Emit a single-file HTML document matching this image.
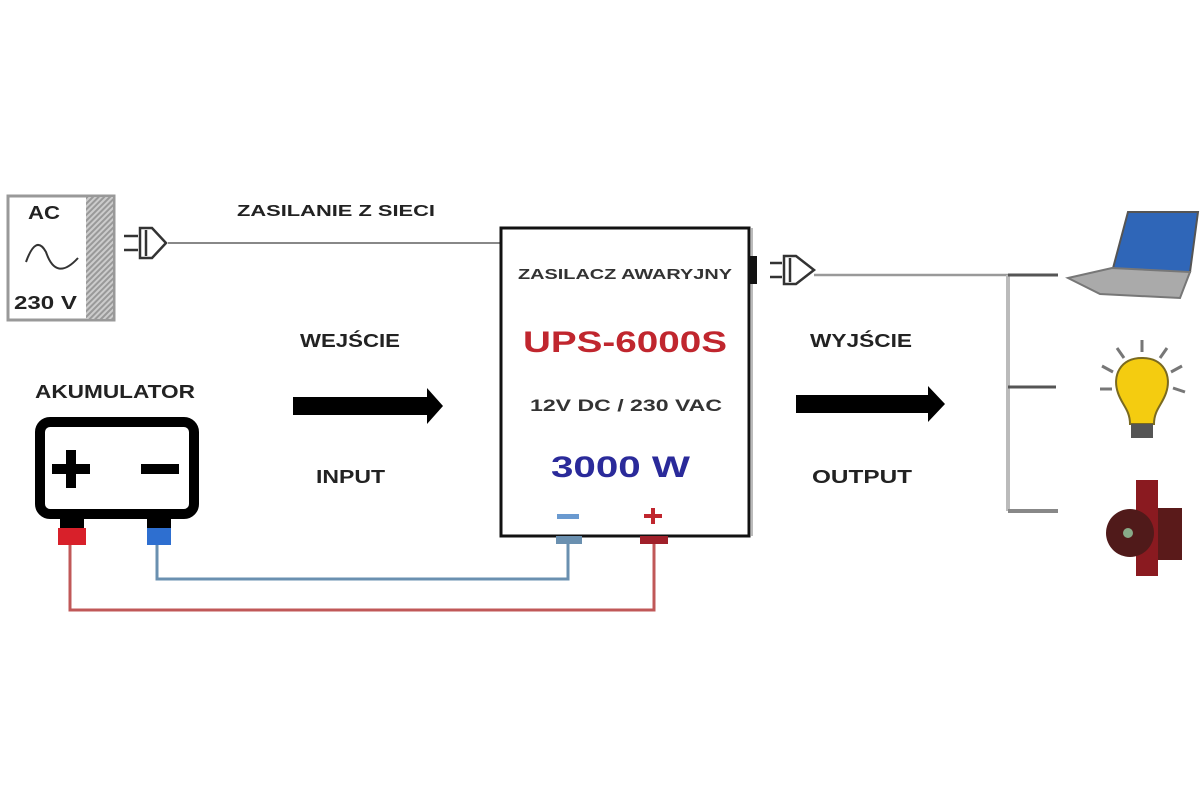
<!DOCTYPE html>
<html><head><meta charset="utf-8"><style>
html,body{margin:0;padding:0;background:#fff;}
svg{display:block;font-family:"Liberation Sans",Arial,sans-serif;font-weight:bold;}
</style></head><body>
<svg width="1200" height="800" viewBox="0 0 1200 800" xmlns="http://www.w3.org/2000/svg">
<defs>
<pattern id="h" width="4" height="4" patternUnits="userSpaceOnUse" patternTransform="rotate(45)">
<rect width="4" height="4" fill="#ccc"/><rect width="2" height="4" fill="#999"/></pattern>
</defs>
<!-- AC source -->
<rect x="8" y="196" width="106" height="124" fill="#fff" stroke="#999" stroke-width="3"/>
<rect x="86" y="197" width="27" height="122" fill="url(#h)"/>
<text x="28" y="219" font-size="18" textLength="32" lengthAdjust="spacingAndGlyphs" fill="#222">AC</text>
<path d="M26 262 Q36 234 46 252 Q56 282 78 258" fill="none" stroke="#333" stroke-width="2"/>
<text x="14" y="309" font-size="18" textLength="63" lengthAdjust="spacingAndGlyphs" fill="#222">230 V</text>
<!-- input plug -->
<g stroke="#333" stroke-width="2.5" fill="#fff">
<line x1="124" y1="236" x2="138" y2="236"/><line x1="124" y1="250" x2="138" y2="250"/>
<path d="M140 228 L152 228 L166 243 L152 258 L140 258 Z"/>
<line x1="146" y1="230" x2="146" y2="256"/>
</g>
<line x1="168" y1="243" x2="501" y2="243" stroke="#888" stroke-width="2"/>
<text x="237" y="216" font-size="16" textLength="198" lengthAdjust="spacingAndGlyphs" fill="#222">ZASILANIE Z SIECI</text>
<!-- UPS box -->
<rect x="501" y="228" width="248" height="308" fill="#fff" stroke="#111" stroke-width="3"/>
<line x1="752" y1="228" x2="752" y2="536" stroke="#bbb" stroke-width="2"/>
<text x="518" y="279" font-size="15" textLength="214" lengthAdjust="spacingAndGlyphs" fill="#333">ZASILACZ AWARYJNY</text>
<text x="523" y="352" font-size="30" textLength="204" lengthAdjust="spacingAndGlyphs" fill="#c0262e">UPS-6000S</text>
<text x="530" y="411" font-size="17" textLength="192" lengthAdjust="spacingAndGlyphs" fill="#333">12V DC  /  230 VAC</text>
<text x="551" y="477" font-size="30" textLength="139" lengthAdjust="spacingAndGlyphs" fill="#2a2a9a">3000 W</text>
<rect x="557" y="514" width="22" height="5" fill="#6a9ad0"/>
<rect x="644" y="514" width="18" height="4" fill="#c0262e"/><rect x="651" y="508" width="4" height="16" fill="#c0262e"/>
<rect x="556" y="536" width="26" height="8" fill="#6a90b0"/>
<rect x="640" y="536" width="28" height="8" fill="#a0202a"/>
<!-- wires -->
<polyline points="568,544 568,579 157,579 157,545" fill="none" stroke="#6a90b0" stroke-width="3"/>
<polyline points="654,544 654,610 70,610 70,545" fill="none" stroke="#c05858" stroke-width="3"/>
<!-- output plug -->
<rect x="749" y="256" width="8" height="28" fill="#111"/>
<g stroke="#333" stroke-width="2.5" fill="#fff">
<line x1="770" y1="263" x2="782" y2="263"/><line x1="770" y1="277" x2="782" y2="277"/>
<path d="M784 256 L796 256 L814 270 L796 284 L784 284 Z"/>
<line x1="790" y1="258" x2="790" y2="282"/>
</g>
<line x1="814" y1="275" x2="1058" y2="275" stroke="#999" stroke-width="2.5"/>
<line x1="1008" y1="275" x2="1008" y2="511" stroke="#bbb" stroke-width="4"/>
<line x1="1008" y1="275" x2="1058" y2="275" stroke="#555" stroke-width="3"/>
<line x1="1008" y1="387" x2="1056" y2="387" stroke="#555" stroke-width="3"/>
<line x1="1008" y1="511" x2="1058" y2="511" stroke="#888" stroke-width="4"/>
<!-- labels / arrows -->
<text x="300" y="347" font-size="18" textLength="100" lengthAdjust="spacingAndGlyphs" fill="#222">WEJŚCIE</text>
<text x="316" y="483" font-size="18" textLength="69" lengthAdjust="spacingAndGlyphs" fill="#222">INPUT</text>
<path d="M293 397 L427 397 L427 388 L443 406 L427 424 L427 415 L293 415 Z" fill="#000"/>
<text x="810" y="347" font-size="18" textLength="102" lengthAdjust="spacingAndGlyphs" fill="#222">WYJŚCIE</text>
<text x="812" y="483" font-size="18" textLength="100" lengthAdjust="spacingAndGlyphs" fill="#222">OUTPUT</text>
<path d="M796 395 L928 395 L928 386 L945 404 L928 422 L928 413 L796 413 Z" fill="#000"/>
<!-- battery -->
<text x="35" y="398" font-size="18" textLength="160" lengthAdjust="spacingAndGlyphs" fill="#222">AKUMULATOR</text>
<rect x="40" y="422" width="154" height="92" rx="10" fill="#fff" stroke="#000" stroke-width="10"/>
<rect x="52" y="464" width="38" height="10" fill="#000"/><rect x="66" y="450" width="10" height="38" fill="#000"/>
<rect x="141" y="464" width="38" height="10" fill="#000"/>
<rect x="60" y="518" width="24" height="10" fill="#000"/><rect x="58" y="528" width="28" height="17" fill="#d8202a"/>
<rect x="147" y="518" width="24" height="10" fill="#000"/><rect x="147" y="528" width="24" height="17" fill="#2e6fd0"/>
<!-- laptop -->
<path d="M1128 212 L1198 212 L1190 272 L1112 272 Z" fill="#2f66b8" stroke="#555" stroke-width="2"/>
<path d="M1068 278 L1112 268 L1190 272 L1180 298 L1100 294 Z" fill="#aaa" stroke="#777" stroke-width="2"/>
<!-- bulb -->
<g stroke="#777" stroke-width="3">
<line x1="1142" y1="340" x2="1142" y2="352"/><line x1="1117" y1="348" x2="1124" y2="358"/><line x1="1167" y1="348" x2="1160" y2="358"/>
<line x1="1102" y1="366" x2="1113" y2="372"/><line x1="1182" y1="366" x2="1171" y2="372"/>
<line x1="1100" y1="389" x2="1112" y2="389"/><line x1="1185" y1="392" x2="1173" y2="388"/>
</g>
<path d="M1142 358 C1120 358 1112 376 1118 393 C1122 405 1130 410 1130 424 L1154 424 C1154 410 1162 405 1166 393 C1172 376 1164 358 1142 358 Z" fill="#f4cc10" stroke="#7a6a20" stroke-width="2"/>
<rect x="1131" y="424" width="22" height="14" fill="#555"/>
<!-- pump -->
<rect x="1136" y="480" width="22" height="96" fill="#8a1a20"/>
<circle cx="1130" cy="533" r="24" fill="#501a1a"/>
<circle cx="1128" cy="533" r="5" fill="#8a8"/>
<rect x="1158" y="508" width="24" height="52" fill="#5a1a1a"/>
</svg>
</body></html>
